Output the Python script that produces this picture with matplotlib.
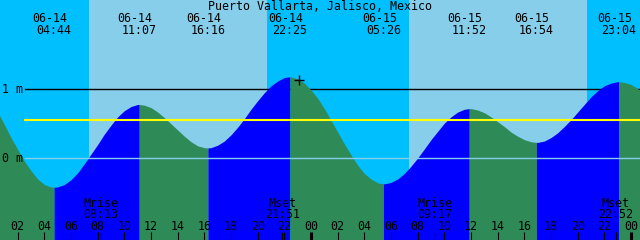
import matplotlib
matplotlib.use("Agg")
import matplotlib.pyplot as plt

# tide graph for two days, x axis in hours since 06-14 00:00
title = "Puerto Vallarta, Jalisco, Mexico"

# level read every half hour, 00:00 06-14 .. 01:00 06-16
hours = [i * 0.5 for i in range(99)]
levels = [0.83, 0.67, 0.49, 0.30, 0.13, -0.04, -0.18, -0.30, -0.38, -0.415,
          -0.415, -0.38, -0.31, -0.21, -0.08, 0.06, 0.20, 0.35, 0.48, 0.60,
          0.69, 0.75, 0.78, 0.77, 0.735, 0.67, 0.59, 0.50, 0.41, 0.32,
          0.24, 0.18, 0.154, 0.154, 0.19, 0.25, 0.34, 0.45, 0.575, 0.71,
          0.835, 0.95, 1.05, 1.12, 1.17, 1.18, 1.15, 1.09, 0.99, 0.87,
          0.72, 0.55, 0.38, 0.21, 0.05, -0.10, -0.22, -0.30, -0.355, -0.37,
          -0.35, -0.30, -0.22, -0.115, 0.005, 0.135, 0.27, 0.39, 0.51, 0.60,
          0.67, 0.71, 0.72, 0.70, 0.66, 0.60, 0.53, 0.46, 0.38, 0.32,
          0.27, 0.24, 0.23, 0.25, 0.30, 0.37, 0.46, 0.56, 0.67, 0.78,
          0.89, 0.98, 1.05, 1.09, 1.11, 1.10, 1.07, 1.01, 0.94]

tide_hours = [4.733, 11.117, 16.267, 22.417, 29.433, 35.867, 40.9, 47.067]
tide_levels = [-0.42, 0.78, 0.15, 1.18, -0.37, 0.72, 0.23, 1.11]
tide_dates = ["06-14", "06-14", "06-14", "06-14", "06-15", "06-15", "06-15", "06-15"]
tide_clock = ["04:44", "11:07", "16:16", "22:25", "05:26", "11:52", "16:54", "23:04"]

moon_names = ["Mrise", "Mset", "Mrise", "Mset"]
moon_hours = [8.217, 21.85, 33.283, 46.867]
moon_clock = ["08:13", "21:51", "09:17", "22:52"]

sunrise_hours = [7.35, 31.35]
sunset_hours = [20.7, 44.7]

tick_hours = list(range(2, 49, 2))
tick_labels = ["%02d" % (h % 24) for h in tick_hours]

mean_level = 0.55
now_hour = 23.1
now_level = 1.14

night = "#00bfff"
day = "#87ceeb"
rising = "#0000ff"
falling = "#2e8b57"
font = "DejaVu Sans Mono"
fs = 8.4

xmin, xmax = 0.675, 48.675
ymin, ymax = -1.184, 2.294

fig = plt.figure(figsize=(6.4, 2.4), dpi=100)
ax = fig.add_axes([0, 0, 1, 1])
ax.set_xlim(xmin, xmax)
ax.set_ylim(ymin, ymax)
ax.set_facecolor(night)
for s in ax.spines.values():
    s.set_visible(False)
ax.set_xticks([])
ax.set_yticks([])

for a, b in zip(sunrise_hours, sunset_hours):
    ax.axvspan(a, b, color=day, lw=0, zorder=0)

ax.axhline(1, xmin=25 / 640, color="black", lw=1, zorder=1)

# merge readings with the turning points, fill each rising/falling stretch
pts = sorted(zip(hours + tide_hours, levels + tide_levels))
t = [p[0] for p in pts]
lv = [p[1] for p in pts]
bounds = [hours[0]] + tide_hours + [hours[-1]]
for a, b in zip(bounds[:-1], bounds[1:]):
    seg_t = [x for x in t if a <= x <= b]
    seg_l = [y for x, y in zip(t, lv) if a <= x <= b]
    color = rising if seg_l[-1] > seg_l[0] else falling
    ax.fill_between(seg_t, seg_l, ymin - 1, color=color, lw=0, zorder=2)

ax.axhline(mean_level, xmin=25 / 640, color="yellow", lw=1.5, zorder=3)
ax.axhline(0, xmin=25 / 640, color=day, lw=1, zorder=3)
ax.text(xmin + 2 / 13.333, 1, "1 m", family=font, fontsize=fs, va="center", zorder=5)
ax.text(xmin + 2 / 13.333, 0, "0 m", family=font, fontsize=fs, va="center", zorder=5)

ax.plot([now_hour], [now_level], marker="+", color="black", ms=7, mew=1, zorder=5)

trans = ax.get_xaxis_transform()
ax.text(0.5, 0.958, title, transform=ax.transAxes, family=font, fontsize=fs,
        ha="center", va="baseline")
for h, d, c in zip(tide_hours, tide_dates, tide_clock):
    ax.annotate(d, (h, 0.9096), xycoords=trans, xytext=(-3, 0), textcoords="offset points",
                family=font, fontsize=fs, ha="center", va="baseline")
    ax.text(h, 0.857, c, transform=trans, family=font, fontsize=fs, ha="center", va="baseline")

for h, lab in zip(tick_hours, tick_labels):
    width = 2.2 if h % 24 == 0 else 0.8
    ax.vlines(h, 0, 8 / 240, transform=trans, color="black", lw=width, zorder=4)
    ax.text(h, 0.0429, lab, transform=trans, family=font, fontsize=fs,
            ha="center", va="baseline", zorder=5)

for h, n, c in zip(moon_hours, moon_names, moon_clock):
    ax.vlines(h, 0, 8 / 240, transform=trans, color="black", lw=0.8, zorder=4)
    ax.text(h, 0.1388, n, transform=trans, family=font, fontsize=fs, ha="center", va="baseline")
    ax.text(h, 0.0917, c, transform=trans, family=font, fontsize=fs, ha="center", va="baseline")

fig.savefig("out.png", dpi=100)
